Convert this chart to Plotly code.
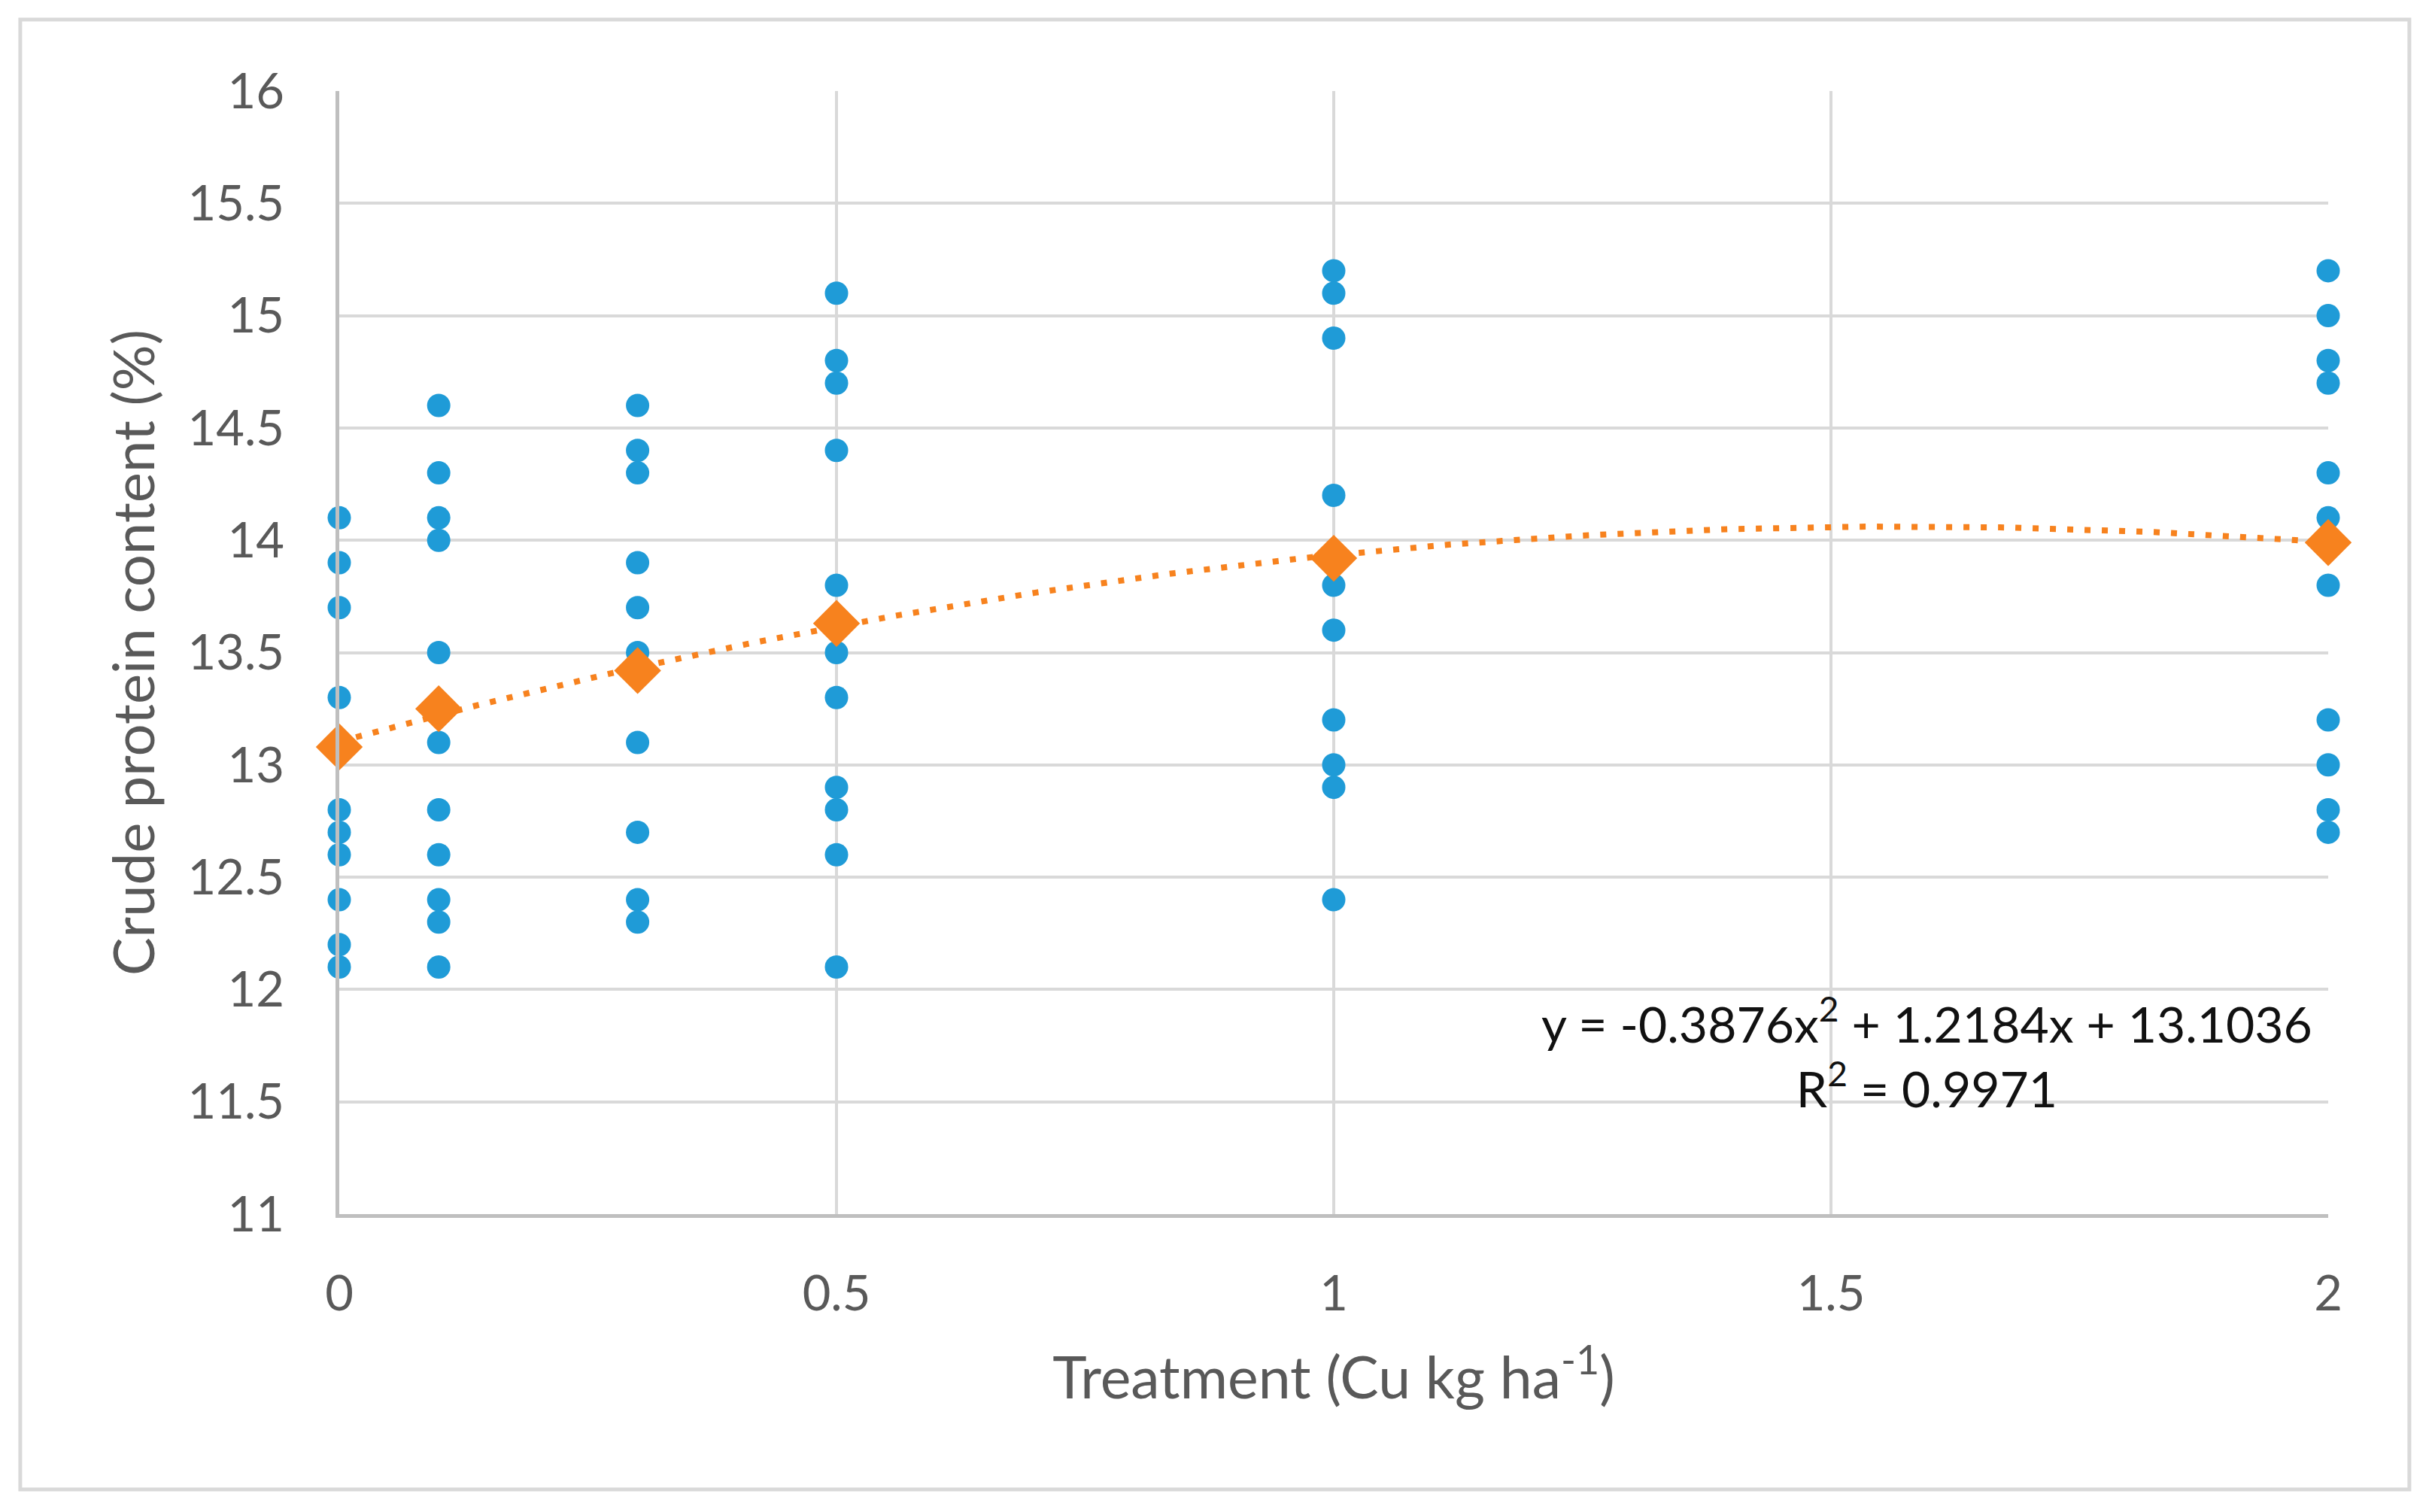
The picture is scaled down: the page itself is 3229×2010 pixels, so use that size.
import numpy as np
import plotly.graph_objects as go

# treatment levels (Cu kg/ha) and individual crude protein readings (%)
dose_0 = [14.1, 13.9, 13.7, 13.3, 12.8, 12.7, 12.6, 12.4, 12.2, 12.1]
dose_01 = [14.6, 14.3, 14.1, 14.0, 13.5, 13.1, 12.8, 12.6, 12.4, 12.3, 12.1]
dose_03 = [14.6, 14.4, 14.3, 13.9, 13.7, 13.5, 13.1, 12.7, 12.4, 12.3]
dose_05 = [15.1, 14.8, 14.7, 14.4, 13.8, 13.5, 13.3, 12.9, 12.8, 12.6, 12.1]
dose_1 = [15.2, 15.1, 14.9, 14.2, 13.8, 13.6, 13.2, 13.0, 12.9, 12.4]
dose_2 = [15.2, 15.0, 14.8, 14.7, 14.3, 14.1, 13.8, 13.2, 13.0, 12.8, 12.7]

treatments = [0, 0.1, 0.3, 0.5, 1, 2]
readings = [dose_0, dose_01, dose_03, dose_05, dose_1, dose_2]
means = [13.08, 13.25, 13.42, 13.63, 13.92, 13.99]

# polynomial trendline as printed on the chart
fit_coef = [-0.3876, 1.2184, 13.1036]
fit_r2 = 0.9971

x_ticks = [0, 0.5, 1, 1.5, 2]
y_ticks = [11, 11.5, 12, 12.5, 13, 13.5, 14, 14.5, 15, 15.5, 16]

FONT = "Lato"
GREY_TEXT = "#595959"
GRID = "#D9D9D9"
BLUE = "#1F9BD7"
ORANGE = "#F7821E"


def main():
    pts_x = [t for t, vals in zip(treatments, readings) for _ in vals]
    pts_y = [v for vals in readings for v in vals]

    fit_x = np.linspace(treatments[0], treatments[-1], 201)
    fit_y = np.polyval(fit_coef, fit_x)

    fig = go.Figure()

    fig.add_trace(
        go.Scatter(
            x=pts_x,
            y=pts_y,
            mode="markers",
            marker=dict(color=BLUE, size=31),
            cliponaxis=False,
            showlegend=False
        )
    )

    fig.add_trace(
        go.Scatter(
            x=fit_x,
            y=fit_y,
            mode="lines",
            line=dict(color=ORANGE, width=8, dash="8px,15px"),
            cliponaxis=False,
            showlegend=False
        )
    )

    fig.add_trace(
        go.Scatter(
            x=treatments,
            y=means,
            mode="markers",
            marker=dict(color=ORANGE, size=48, symbol="diamond"),
            cliponaxis=False,
            showlegend=False
        )
    )

    fig.update_xaxes(
        range=[0, 2],
        tickvals=x_ticks,
        ticktext=[f"{v:g}" for v in x_ticks],
        showgrid=True,
        gridcolor=GRID,
        gridwidth=4,
        showline=True,
        linecolor="#BFBFBF",
        linewidth=5,
        zeroline=False,
        ticks="",
        ticklabelstandoff=45,
        tickfont=dict(family=FONT, size=65, color=GREY_TEXT),
        title=dict(
            text="Treatment (Cu kg ha<sup>-1</sup>)",
            font=dict(family=FONT, size=77, color=GREY_TEXT),
            standoff=52
        )
    )

    fig.update_yaxes(
        range=[11, 16],
        tickvals=y_ticks,
        ticktext=[f"{v:g}" for v in y_ticks],
        showgrid=True,
        gridcolor=GRID,
        gridwidth=4,
        showline=True,
        linecolor="#BFBFBF",
        linewidth=5,
        zeroline=False,
        ticks="",
        ticklabelstandoff=55,
        tickfont=dict(family=FONT, size=65, color=GREY_TEXT),
        title=dict(
            text="Crude protein content (%)",
            font=dict(family=FONT, size=76, color=GREY_TEXT),
            standoff=20
        )
    )

    eq = (
        f"y = {fit_coef[0]}x<sup>2</sup> + {fit_coef[1]}x + {fit_coef[2]}"
        f"<br>R<sup>2</sup> = {fit_r2}"
    )
    fig.add_annotation(
        x=0.993,
        xref="paper",
        xanchor="right",
        y=11.72,
        yref="y",
        yanchor="middle",
        text=eq,
        align="center",
        showarrow=False,
        font=dict(family=FONT, size=66, color="#111")
    )

    # outer chart border
    fig.add_shape(
        type="rect",
        xref="paper",
        yref="paper",
        x0=-0.1604,
        x1=1.0408,
        y0=-0.2451,
        y1=1.0636,
        line=dict(color=GRID, width=5)
    )

    # page body adds an 8px offset, so the figure is 8px smaller each way
    fig.update_layout(
        width=3221,
        height=2002,
        font_family=FONT,
        plot_bgcolor="#fff",
        paper_bgcolor="#fff",
        margin=dict(l=443, r=134, t=113, b=396, autoexpand=False)
    )

    fig.write_html("out.html")


if __name__ == "__main__":
    main()
